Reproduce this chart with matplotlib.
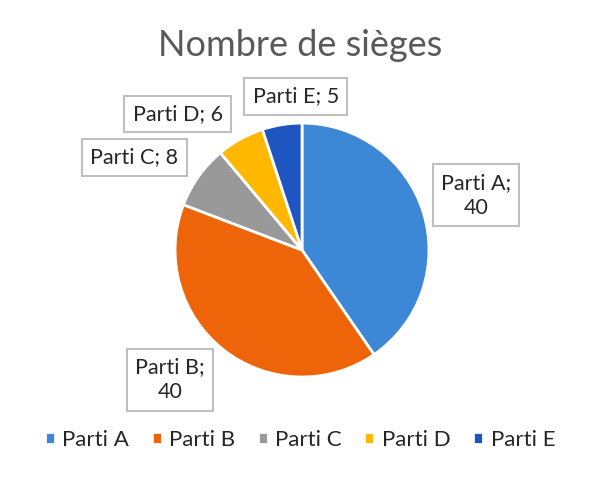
import matplotlib.pyplot as plt
import numpy as np

# Dati
partis = ['Parti A', 'Parti B', 'Parti C', 'Parti D', 'Parti E']
sieges = [40, 40, 8, 6, 5]
colori = ['#3d88d6', '#ee6408', '#999999', '#ffb700', '#1f55c0']

plt.rcParams['font.family'] = ['Lato', 'DejaVu Sans']

fig = plt.figure(figsize=(6, 4.8), dpi=100)
# asse quadrato per la torta
ax = fig.add_axes([0.2917, 0.2146, 0.4233, 0.529])

wedges, _ = ax.pie(sieges, colors=colori, startangle=90, counterclock=False,
                   radius=1, wedgeprops={'edgecolor': 'white', 'linewidth': 2})
ax.set_xlim(-1, 1)
ax.set_ylim(-1, 1)
ax.set_aspect('equal')

# Etichette (posizioni in coordinate della torta)
label_pos = [(1.37, 0.43), (-1.04, -1.02), (-1.32, 0.73), (-0.98, 1.07), (-0.05, 1.21)]
for nome, val, (x, y) in zip(partis, sieges, label_pos):
    if val >= 10:
        testo = f'{nome};\n{val}'
    else:
        testo = f'{nome}; {val}'
    ax.text(x, y, testo, ha='center', va='center', fontsize=15.5, color='#262626',
            linespacing=1.35, clip_on=False,
            bbox=dict(boxstyle='square,pad=0.38', facecolor='white',
                      edgecolor='#bfbfbf', linewidth=1.5))

fig.text(0.5, 0.905, 'Nombre de sièges', ha='center', va='center',
         fontsize=26, color='#595959')

leg = fig.legend(wedges, partis, loc='center', bbox_to_anchor=(0.5, 0.083),
                 ncol=5, frameon=False, fontsize=16, handlelength=0.45,
                 handleheight=0.45, handletextpad=0.35, columnspacing=1.0)
for t in leg.get_texts():
    t.set_color('#262626')

plt.savefig('out.png', dpi=100)
